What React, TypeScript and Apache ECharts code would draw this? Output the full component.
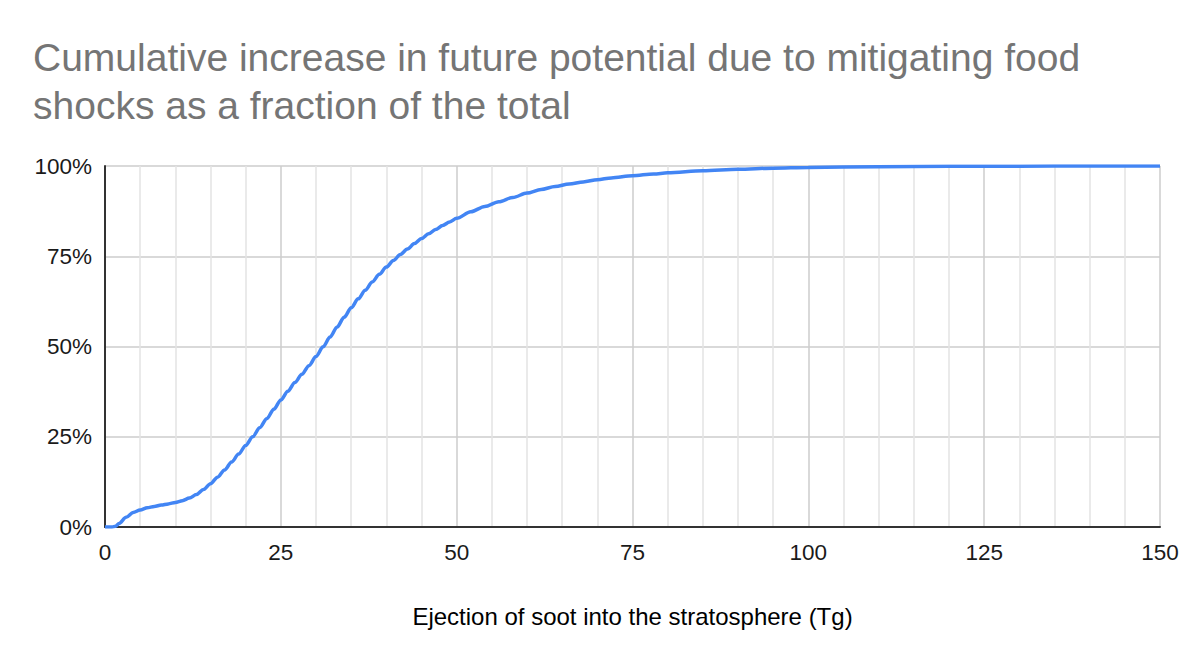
import React, { useEffect, useRef } from "react";
import * as echarts from "echarts";

const titleText = "Cumulative increase in future potential due to mitigating food\nshocks as a fraction of the total";
const xAxisTitle = "Ejection of soot into the stratosphere (Tg)";

const sootTg = [
  0, 1, 1.5, 2, 3, 4, 5, 6, 7, 8, 9, 10, 11, 12, 13, 14, 15, 16, 17, 18, 19, 20,
  21, 22, 23, 24, 25, 26, 27, 28, 29, 30, 31, 32, 33, 34, 35, 36, 37, 38, 39, 40,
  41, 42, 43, 44, 45, 46, 47, 48, 49, 50, 52, 54, 56, 58, 60, 62, 64, 66, 68, 70,
  72, 75, 78, 80, 85, 90, 95, 100, 110, 120, 130, 140, 150,
];
const cumulativePct = [
  0, 0, 0.2, 1.0, 2.7, 4.0, 4.7, 5.3, 5.7, 6.1, 6.4, 6.8, 7.3, 8.0, 9.0, 10.4, 12.0, 13.8, 15.8, 18.0, 20.2, 22.6,
  25.0, 27.5, 30.0, 32.6, 35.2, 37.6, 40.0, 42.3, 44.7, 47.2, 49.9, 52.6, 55.4, 58.1, 60.7, 63.2, 65.6, 67.9, 70.0, 72.0,
  73.8, 75.5, 77.0, 78.5, 79.9, 81.2, 82.4, 83.5, 84.5, 85.5, 87.3, 88.8, 90.1, 91.3, 92.5, 93.5, 94.3, 95.0, 95.6, 96.2,
  96.7, 97.3, 97.8, 98.1, 98.7, 99.1, 99.4, 99.6, 99.8, 99.9, 99.95, 100, 100,
];

const font = "'Liberation Sans', Arial, sans-serif";

export default function App() {
  const ref = useRef<HTMLDivElement>(null);
  useEffect(() => {
    if (!ref.current) return;
    const chart = echarts.init(ref.current, null, { renderer: "svg" });
    chart.setOption({
      animation: false,
      backgroundColor: "#ffffff",
      title: {
        text: titleText,
        left: 33,
        top: 33,
        padding: 0,
        textStyle: {
          fontFamily: font,
          fontSize: 39,
          fontWeight: "normal",
          color: "#757575",
          lineHeight: 48,
        },
      },
      grid: { left: 105, right: 34, top: 166, bottom: 137, containLabel: false },
      xAxis: {
        type: "value",
        min: 0,
        max: 150,
        interval: 25,
        name: xAxisTitle,
        nameLocation: "middle",
        nameGap: 77,
        nameTextStyle: { fontFamily: font, fontSize: 24, color: "#000000" },
        axisLine: { show: true, lineStyle: { color: "#333333", width: 2 } },
        axisTick: { show: false },
        axisLabel: { fontFamily: font, fontSize: 22.5, color: "#1a1a1a", margin: 14 },
        splitLine: { show: true, lineStyle: { color: "#cccccc", width: 1.5 } },
        minorTick: { show: false, splitNumber: 5 },
        minorSplitLine: { show: true, lineStyle: { color: "#e3e3e3", width: 1.5 } },
      },
      yAxis: {
        type: "value",
        min: 0,
        max: 100,
        interval: 25,
        axisLine: { show: true, lineStyle: { color: "#333333", width: 2 } },
        axisTick: { show: false },
        axisLabel: { fontFamily: font, fontSize: 22.5, color: "#1a1a1a", margin: 13, formatter: "{value}%" },
        splitLine: { show: true, lineStyle: { color: "#cccccc", width: 1.5 } },
      },
      series: [
        {
          type: "line",
          data: sootTg.map((x, i) => [x, cumulativePct[i]]),
          showSymbol: false,
          smooth: 0.3,
          smoothMonotone: "x",
          lineStyle: { color: "#4285F4", width: 3.5 },
          itemStyle: { color: "#4285F4" },
          z: 5,
        },
      ],
    });
    return () => chart.dispose();
  }, []);
  return (
    <div
      ref={ref}
      style={{ position: "fixed", left: 0, top: 0, width: 1194, height: 664, background: "#fff" }}
    />
  );
}
